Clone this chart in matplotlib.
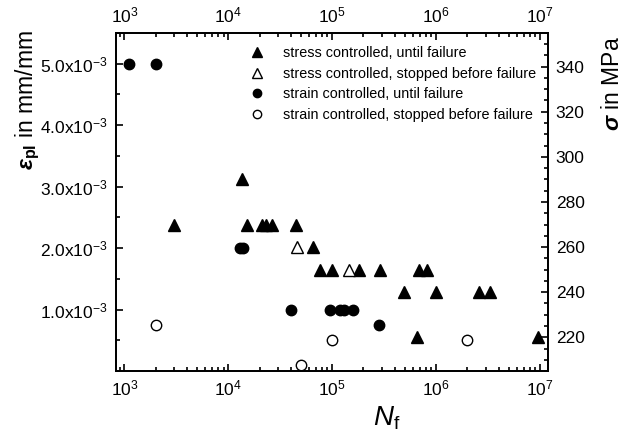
import numpy as np
import matplotlib
matplotlib.use('Agg')
import matplotlib.pyplot as plt
from matplotlib.lines import Line2D
from matplotlib.ticker import MultipleLocator, LogLocator, FixedLocator

plt.rcParams['font.family'] = ['Liberation Sans', 'DejaVu Sans']
plt.rcParams['mathtext.fontset'] = 'custom'
plt.rcParams['mathtext.rm'] = 'Liberation Sans'
plt.rcParams['mathtext.it'] = 'Liberation Sans:italic'
plt.rcParams['mathtext.bf'] = 'Liberation Sans:bold'
plt.rcParams['mathtext.bfit'] = 'Liberation Sans:bold:italic'

# strain controlled tests (left axis, plastic strain amplitude)
strain_fail_N = [1.1e3, 2.0e3, 1.3e4, 1.4e4, 4.0e4, 9.5e4, 1.2e5, 1.3e5, 1.6e5, 2.8e5]
strain_fail_eps = [5.0e-3, 5.0e-3, 2.0e-3, 2.0e-3, 1.0e-3, 1.0e-3, 1.0e-3, 1.0e-3, 1.0e-3, 0.75e-3]
strain_stop_N = [2.0e3, 5.0e4, 1.0e5, 2.0e6]
strain_stop_eps = [0.75e-3, 0.1e-3, 0.5e-3, 0.5e-3]

# stress controlled tests (right axis, stress amplitude in MPa)
stress_fail_N = [1.35e4, 3.0e3, 1.5e4, 2.1e4, 2.3e4, 2.65e4, 4.5e4, 6.5e4,
                 7.7e4, 1.0e5, 1.8e5, 2.9e5, 6.8e5, 8.2e5,
                 4.9e5, 1.0e6, 2.6e6, 3.3e6, 6.5e5, 9.5e6]
stress_fail_S = [290, 270, 270, 270, 270, 270, 270, 260,
                 250, 250, 250, 250, 250, 250,
                 240, 240, 240, 240, 220, 220]
stress_stop_N = [4.6e4, 1.45e5]
stress_stop_S = [260, 250]

eps_ticks = [1e-3, 2e-3, 3e-3, 4e-3, 5e-3]
eps_labels = [r'%.1fx10$^{-3}$' % (v * 1e3) for v in eps_ticks]

fig = plt.figure(figsize=(6.41, 4.32), dpi=100)
ax1 = fig.add_axes([0.181, 0.141, 0.674, 0.783])
ax2 = ax1.twinx()

ax1.plot(strain_fail_N, strain_fail_eps, 'o', color='k', ms=7.5, ls='none')
ax1.plot(strain_stop_N, strain_stop_eps, 'o', mfc='white', mec='k', mew=1.0, ms=7.5, ls='none')
ax2.plot(stress_fail_N, stress_fail_S, '^', color='k', ms=9, ls='none')
ax2.plot(stress_stop_N, stress_stop_S, '^', mfc='white', mec='k', mew=1.0, ms=9, ls='none')

ax1.set_xscale('log')
ax1.set_xlim(830, 1.2e7)
ax1.set_ylim(0, 5.5e-3)
ax2.set_ylim(205, 355)

ax1.xaxis.set_major_locator(LogLocator(base=10, numticks=10))
ax1.xaxis.set_minor_locator(LogLocator(base=10, subs=np.arange(2, 10), numticks=10))
ax1.yaxis.set_major_locator(FixedLocator(eps_ticks))
ax1.set_yticklabels(eps_labels)
ax1.yaxis.set_minor_locator(MultipleLocator(0.5e-3))
ax2.yaxis.set_major_locator(MultipleLocator(20))
ax2.yaxis.set_minor_locator(MultipleLocator(5))

ax1.tick_params(axis='x', which='both', direction='in', top=True, labeltop=True,
                labelsize=12.5, width=1.2, pad=5.5)
ax1.tick_params(axis='y', which='both', direction='in', right=False, labelsize=12.5,
                width=1.2, pad=6)
ax2.tick_params(axis='y', which='both', direction='in', labelsize=12.5, width=1.2, pad=5.5)
for ax in (ax1, ax2):
    ax.tick_params(which='major', length=5)
    ax.tick_params(which='minor', length=3)
    for s in ax.spines.values():
        s.set_linewidth(1.3)

ax1.set_xlabel(r'$N_{\mathrm{f}}$', fontsize=20, x=0.627, labelpad=4)
ax1.set_ylabel(r'$\mathbfit{\varepsilon}_{\mathbf{pl}}$ in mm/mm', fontsize=16.5)
ax1.yaxis.set_label_coords(-0.172, 0.8)
ax2.set_ylabel(r'$\mathbfit{\sigma}$ in MPa', fontsize=16.5, y=0.85, labelpad=12)

handles = [
    Line2D([], [], marker='^', color='k', ls='none', ms=7),
    Line2D([], [], marker='^', mfc='white', mec='k', ls='none', ms=7),
    Line2D([], [], marker='o', color='k', ls='none', ms=6),
    Line2D([], [], marker='o', mfc='white', mec='k', ls='none', ms=6),
]
labels = ['stress controlled, until failure',
          'stress controlled, stopped before failure',
          'strain controlled, until failure',
          'strain controlled, stopped before failure']
ax2.legend(handles, labels, loc='upper left', bbox_to_anchor=(0.282, 0.995),
           frameon=False, fontsize=10.4, handlelength=1.0, handletextpad=1.3,
           labelspacing=0.45, borderpad=0.3)

fig.savefig('out.png', dpi=100)
